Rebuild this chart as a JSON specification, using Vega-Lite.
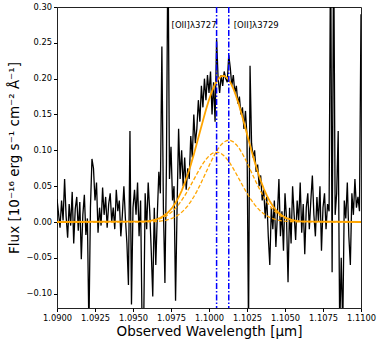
{
  "$schema": "https://vega.github.io/schema/vega-lite/v6.json",
  "width": 304,
  "height": 301,
  "autosize": {"type": "none"},
  "padding": {"left": 57, "top": 7, "right": 19, "bottom": 37},
  "background": "white",
  "config": {
    "font": "DejaVu Sans",
    "view": {"stroke": "#222", "strokeWidth": 1},
    "axis": {"grid": false, "domain": false, "tickColor": "#000", "tickSize": 3.5, "labelColor": "#000", "labelFontSize": 8.3, "labelFont": "DejaVu Sans", "titleFont": "DejaVu Sans", "titleFontWeight": "normal", "titleColor": "#000", "titleFontSize": 13.5, "labelOverlap": false}
  },
  "datasets": {
    "spec": [
      {"wl":1.0900,"flux":0.032},{"wl":1.0901,"flux":0.012},{"wl":1.0902,"flux":-0.008},{"wl":1.0903,"flux":0.030},{"wl":1.0904,"flux":0.002},
      {"wl":1.0905,"flux":0.060},{"wl":1.0906,"flux":0.008},{"wl":1.0907,"flux":-0.022},{"wl":1.0908,"flux":0.025},{"wl":1.0909,"flux":-0.005},
      {"wl":1.0910,"flux":0.042},{"wl":1.0911,"flux":-0.030},{"wl":1.0912,"flux":0.018},{"wl":1.0913,"flux":0.035},{"wl":1.0914,"flux":-0.012},
      {"wl":1.0915,"flux":0.028},{"wl":1.0916,"flux":-0.052},{"wl":1.0917,"flux":0.010},{"wl":1.0918,"flux":0.038},{"wl":1.0919,"flux":-0.018},
      {"wl":1.0920,"flux":0.005},{"wl":1.0921,"flux":-0.150},{"wl":1.0922,"flux":0.020},{"wl":1.0923,"flux":0.088},{"wl":1.0924,"flux":0.075},
      {"wl":1.0925,"flux":0.030},{"wl":1.0926,"flux":0.055},{"wl":1.0927,"flux":-0.015},{"wl":1.0928,"flux":0.020},{"wl":1.0929,"flux":-0.005},
      {"wl":1.0930,"flux":0.048},{"wl":1.0931,"flux":0.010},{"wl":1.0932,"flux":0.035},{"wl":1.0933,"flux":-0.008},{"wl":1.0934,"flux":0.025},
      {"wl":1.0935,"flux":0.040},{"wl":1.0936,"flux":0.000},{"wl":1.0937,"flux":0.020},{"wl":1.0938,"flux":-0.010},{"wl":1.0939,"flux":0.045},
      {"wl":1.0940,"flux":0.015},{"wl":1.0941,"flux":0.030},{"wl":1.0942,"flux":-0.020},{"wl":1.0943,"flux":0.010},{"wl":1.0944,"flux":0.050},
      {"wl":1.0945,"flux":0.005},{"wl":1.0946,"flux":-0.030},{"wl":1.0947,"flux":-0.088},{"wl":1.0948,"flux":0.127},{"wl":1.0949,"flux":-0.115},
      {"wl":1.0950,"flux":0.020},{"wl":1.0951,"flux":0.045},{"wl":1.0952,"flux":0.010},{"wl":1.0953,"flux":0.055},{"wl":1.0954,"flux":-0.020},
      {"wl":1.0955,"flux":0.030},{"wl":1.0956,"flux":-0.150},{"wl":1.0957,"flux":-0.150},{"wl":1.0958,"flux":0.040},{"wl":1.0959,"flux":-0.010},
      {"wl":1.0960,"flux":0.055},{"wl":1.0961,"flux":0.015},{"wl":1.0962,"flux":-0.040},{"wl":1.0963,"flux":-0.104},{"wl":1.0964,"flux":0.020},
      {"wl":1.0965,"flux":-0.060},{"wl":1.0966,"flux":0.010},{"wl":1.0967,"flux":0.070},{"wl":1.0968,"flux":0.040},{"wl":1.0969,"flux":0.245},
      {"wl":1.0970,"flux":0.020},{"wl":1.0971,"flux":-0.085},{"wl":1.0972,"flux":0.080},{"wl":1.0973,"flux":0.400},{"wl":1.0974,"flux":0.060},
      {"wl":1.0975,"flux":0.105},{"wl":1.0976,"flux":0.030},{"wl":1.0977,"flux":0.050},{"wl":1.0978,"flux":-0.110},{"wl":1.0979,"flux":0.020},
      {"wl":1.0980,"flux":0.130},{"wl":1.0981,"flux":0.060},{"wl":1.0982,"flux":0.100},{"wl":1.0983,"flux":0.050},{"wl":1.0984,"flux":0.090},
      {"wl":1.0985,"flux":0.045},{"wl":1.0986,"flux":0.075},{"wl":1.0987,"flux":0.060},{"wl":1.0988,"flux":0.120},{"wl":1.0989,"flux":0.090},
      {"wl":1.0990,"flux":0.150},{"wl":1.0991,"flux":0.110},{"wl":1.0992,"flux":0.130},{"wl":1.0993,"flux":0.170},{"wl":1.0994,"flux":0.140},
      {"wl":1.0995,"flux":0.190},{"wl":1.0996,"flux":0.160},{"wl":1.0997,"flux":0.200},{"wl":1.0998,"flux":0.170},{"wl":1.0999,"flux":0.205},
      {"wl":1.1000,"flux":0.180},{"wl":1.1001,"flux":0.210},{"wl":1.1002,"flux":0.150},{"wl":1.1003,"flux":0.195},{"wl":1.1004,"flux":0.140},
      {"wl":1.1005,"flux":0.255},{"wl":1.1006,"flux":0.200},{"wl":1.1007,"flux":0.180},{"wl":1.1008,"flux":0.205},{"wl":1.1009,"flux":0.190},
      {"wl":1.1010,"flux":0.210},{"wl":1.1011,"flux":0.200},{"wl":1.1012,"flux":0.195},{"wl":1.1013,"flux":0.233},{"wl":1.1014,"flux":0.215},
      {"wl":1.1015,"flux":0.190},{"wl":1.1016,"flux":0.205},{"wl":1.1017,"flux":0.180},{"wl":1.1018,"flux":0.190},{"wl":1.1019,"flux":0.165},
      {"wl":1.1020,"flux":0.175},{"wl":1.1021,"flux":0.150},{"wl":1.1022,"flux":0.160},{"wl":1.1023,"flux":0.130},{"wl":1.1024,"flux":0.155},
      {"wl":1.1025,"flux":0.120},{"wl":1.1026,"flux":-0.150},{"wl":1.1027,"flux":0.218},{"wl":1.1028,"flux":0.110},{"wl":1.1029,"flux":0.090},
      {"wl":1.1030,"flux":0.100},{"wl":1.1031,"flux":0.070},{"wl":1.1032,"flux":0.080},{"wl":1.1033,"flux":0.050},{"wl":1.1034,"flux":0.065},
      {"wl":1.1035,"flux":0.030},{"wl":1.1036,"flux":0.045},{"wl":1.1037,"flux":0.005},{"wl":1.1038,"flux":0.035},{"wl":1.1039,"flux":-0.020},
      {"wl":1.1040,"flux":-0.060},{"wl":1.1041,"flux":0.020},{"wl":1.1042,"flux":-0.010},{"wl":1.1043,"flux":0.030},{"wl":1.1044,"flux":-0.035},
      {"wl":1.1045,"flux":0.010},{"wl":1.1046,"flux":0.060},{"wl":1.1047,"flux":-0.020},{"wl":1.1048,"flux":0.015},{"wl":1.1049,"flux":-0.040},
      {"wl":1.1050,"flux":0.040},{"wl":1.1051,"flux":0.005},{"wl":1.1052,"flux":-0.084},{"wl":1.1053,"flux":0.020},{"wl":1.1054,"flux":-0.030},
      {"wl":1.1055,"flux":0.050},{"wl":1.1056,"flux":0.010},{"wl":1.1057,"flux":-0.025},{"wl":1.1058,"flux":0.030},{"wl":1.1059,"flux":0.000},
      {"wl":1.1060,"flux":0.055},{"wl":1.1061,"flux":-0.015},{"wl":1.1062,"flux":0.025},{"wl":1.1063,"flux":-0.045},{"wl":1.1064,"flux":0.020},
      {"wl":1.1065,"flux":0.040},{"wl":1.1066,"flux":-0.010},{"wl":1.1067,"flux":0.030},{"wl":1.1068,"flux":0.065},{"wl":1.1069,"flux":0.010},
      {"wl":1.1070,"flux":-0.020},{"wl":1.1071,"flux":0.035},{"wl":1.1072,"flux":0.000},{"wl":1.1073,"flux":0.050},{"wl":1.1074,"flux":-0.040},
      {"wl":1.1075,"flux":0.020},{"wl":1.1076,"flux":0.040},{"wl":1.1077,"flux":-0.010},{"wl":1.1078,"flux":0.025},{"wl":1.1079,"flux":0.015},
      {"wl":1.1080,"flux":0.400},{"wl":1.1081,"flux":-0.070},{"wl":1.1082,"flux":0.400},{"wl":1.1083,"flux":0.010},{"wl":1.1084,"flux":0.040},
      {"wl":1.1085,"flux":0.127},{"wl":1.1086,"flux":-0.150},{"wl":1.1087,"flux":-0.050},{"wl":1.1088,"flux":-0.150},{"wl":1.1089,"flux":0.030},
      {"wl":1.1090,"flux":0.005},{"wl":1.1091,"flux":0.055},{"wl":1.1092,"flux":-0.020},{"wl":1.1093,"flux":-0.060},{"wl":1.1094,"flux":0.040},
      {"wl":1.1095,"flux":0.010},{"wl":1.1096,"flux":0.060},{"wl":1.1097,"flux":0.020},{"wl":1.1098,"flux":0.035},{"wl":1.1099,"flux":0.015},
      {"wl":1.1100,"flux":0.290}
    ],
    "fit": [
      {"wl":1.0900,"g1":0,"g2":0,"total":0},
      {"wl":1.0958,"g1":0.0007,"g2":0.0001,"total":0.0008},
      {"wl":1.0960,"g1":0.00108,"g2":0.00022,"total":0.0013},
      {"wl":1.0962,"g1":0.0016,"g2":0.00035,"total":0.00195},
      {"wl":1.0964,"g1":0.00233,"g2":0.00055,"total":0.00288},
      {"wl":1.0966,"g1":0.00332,"g2":0.00084,"total":0.00416},
      {"wl":1.0968,"g1":0.00465,"g2":0.00127,"total":0.00592},
      {"wl":1.0970,"g1":0.00641,"g2":0.00187,"total":0.00828},
      {"wl":1.0972,"g1":0.00867,"g2":0.00272,"total":0.01139},
      {"wl":1.0974,"g1":0.01151,"g2":0.00388,"total":0.01539},
      {"wl":1.0976,"g1":0.01504,"g2":0.00544,"total":0.02048},
      {"wl":1.0978,"g1":0.0193,"g2":0.00749,"total":0.02679},
      {"wl":1.0980,"g1":0.02432,"g2":0.01013,"total":0.03445},
      {"wl":1.0982,"g1":0.03009,"g2":0.01346,"total":0.04355},
      {"wl":1.0984,"g1":0.03659,"g2":0.01759,"total":0.05418},
      {"wl":1.0986,"g1":0.04371,"g2":0.02256,"total":0.06627},
      {"wl":1.0988,"g1":0.05129,"g2":0.02843,"total":0.07972},
      {"wl":1.0990,"g1":0.05913,"g2":0.03518,"total":0.09431},
      {"wl":1.0992,"g1":0.06697,"g2":0.04278,"total":0.10975},
      {"wl":1.0994,"g1":0.07451,"g2":0.05111,"total":0.12562},
      {"wl":1.0996,"g1":0.08144,"g2":0.05998,"total":0.14142},
      {"wl":1.0998,"g1":0.08744,"g2":0.06914,"total":0.15658},
      {"wl":1.1000,"g1":0.09224,"g2":0.07831,"total":0.17055},
      {"wl":1.1002,"g1":0.09557,"g2":0.08712,"total":0.18269},
      {"wl":1.1004,"g1":0.09729,"g2":0.09522,"total":0.19251},
      {"wl":1.1006,"g1":0.09729,"g2":0.10224,"total":0.19953},
      {"wl":1.1008,"g1":0.09557,"g2":0.10784,"total":0.20341},
      {"wl":1.1010,"g1":0.09224,"g2":0.11174,"total":0.20398},
      {"wl":1.1012,"g1":0.08744,"g2":0.11375,"total":0.20119},
      {"wl":1.1014,"g1":0.08144,"g2":0.11375,"total":0.19519},
      {"wl":1.1016,"g1":0.07451,"g2":0.11174,"total":0.18625},
      {"wl":1.1018,"g1":0.06697,"g2":0.10784,"total":0.17481},
      {"wl":1.1020,"g1":0.05913,"g2":0.10224,"total":0.16137},
      {"wl":1.1022,"g1":0.05129,"g2":0.09522,"total":0.14651},
      {"wl":1.1024,"g1":0.04371,"g2":0.08712,"total":0.13083},
      {"wl":1.1026,"g1":0.03659,"g2":0.07831,"total":0.1149},
      {"wl":1.1028,"g1":0.03009,"g2":0.06914,"total":0.09923},
      {"wl":1.1030,"g1":0.02432,"g2":0.05998,"total":0.0843},
      {"wl":1.1032,"g1":0.0193,"g2":0.05111,"total":0.07041},
      {"wl":1.1034,"g1":0.01504,"g2":0.04278,"total":0.05782},
      {"wl":1.1036,"g1":0.01151,"g2":0.03518,"total":0.04669},
      {"wl":1.1038,"g1":0.00867,"g2":0.02843,"total":0.0371},
      {"wl":1.1040,"g1":0.00641,"g2":0.02256,"total":0.02897},
      {"wl":1.1042,"g1":0.00465,"g2":0.01759,"total":0.02224},
      {"wl":1.1044,"g1":0.00332,"g2":0.01346,"total":0.01678},
      {"wl":1.1046,"g1":0.00233,"g2":0.01013,"total":0.01246},
      {"wl":1.1048,"g1":0.0016,"g2":0.00749,"total":0.00909},
      {"wl":1.1050,"g1":0.00108,"g2":0.00544,"total":0.00652},
      {"wl":1.1052,"g1":0.00072,"g2":0.00388,"total":0.0046},
      {"wl":1.1054,"g1":0.00047,"g2":0.00272,"total":0.00319},
      {"wl":1.1056,"g1":0.0003,"g2":0.00187,"total":0.00217},
      {"wl":1.1058,"g1":0.00019,"g2":0.00127,"total":0.00146},
      {"wl":1.1060,"g1":0.00012,"g2":0.00084,"total":0.00096},
      {"wl":1.1100,"g1":0,"g2":0,"total":0}
    ],
    "lines": [
      {"wl":1.1005,"label":"[OII]λ3727","flux":0.275},
      {"wl":1.1013,"label":"[OII]λ3729","flux":0.275}
    ]
  },
  "encoding": {
    "x": {"field": "wl", "type": "quantitative", "scale": {"domain": [1.09, 1.11], "nice": false, "zero": false},
      "axis": {"title": "Observed Wavelength [μm]", "values": [1.09, 1.0925, 1.095, 1.0975, 1.1, 1.1025, 1.105, 1.1075, 1.11], "format": ".4f", "labelPadding": 2, "titlePadding": 3, "labelFlush": false, "labelOverlap": false, "labelBound": false}}
  },
  "layer": [
    {
      "data": {"name": "spec"},
      "mark": {"type": "line", "color": "#000", "strokeWidth": 1.3, "clip": true},
      "encoding": {
        "y": {"field": "flux", "type": "quantitative", "scale": {"domain": [-0.12, 0.30], "nice": false, "zero": false},
          "axis": {"title": "Flux [10⁻¹⁶ erg s⁻¹ cm⁻² Å⁻¹]", "values": [-0.1, -0.05, 0, 0.05, 0.1, 0.15, 0.2, 0.25, 0.3], "format": ".2f", "labelPadding": 2, "titlePadding": 5, "labelFlush": false, "labelOverlap": false}}
      }
    },
    {
      "data": {"name": "fit"},
      "mark": {"type": "line", "color": "#FFA500", "strokeWidth": 1.3, "strokeDash": [4, 2], "clip": true},
      "encoding": {"y": {"field": "g1", "type": "quantitative",
          "axis": {"title": "Flux [10⁻¹⁶ erg s⁻¹ cm⁻² Å⁻¹]", "values": [-0.1, -0.05, 0, 0.05, 0.1, 0.15, 0.2, 0.25, 0.3], "format": ".2f", "labelPadding": 2, "titlePadding": 5, "labelFlush": false, "labelOverlap": false}}}
    },
    {
      "data": {"name": "fit"},
      "mark": {"type": "line", "color": "#FFA500", "strokeWidth": 1.3, "strokeDash": [4, 2], "clip": true},
      "encoding": {"y": {"field": "g2", "type": "quantitative",
          "axis": {"title": "Flux [10⁻¹⁶ erg s⁻¹ cm⁻² Å⁻¹]", "values": [-0.1, -0.05, 0, 0.05, 0.1, 0.15, 0.2, 0.25, 0.3], "format": ".2f", "labelPadding": 2, "titlePadding": 5, "labelFlush": false, "labelOverlap": false}}}
    },
    {
      "data": {"name": "fit"},
      "mark": {"type": "line", "color": "#FFA500", "strokeWidth": 1.8, "clip": true},
      "encoding": {"y": {"field": "total", "type": "quantitative",
          "axis": {"title": "Flux [10⁻¹⁶ erg s⁻¹ cm⁻² Å⁻¹]", "values": [-0.1, -0.05, 0, 0.05, 0.1, 0.15, 0.2, 0.25, 0.3], "format": ".2f", "labelPadding": 2, "titlePadding": 5, "labelFlush": false, "labelOverlap": false}}}
    },
    {
      "data": {"name": "lines"},
      "mark": {"type": "rule", "color": "#0000FF", "strokeWidth": 1.5, "strokeDash": [6, 2, 1.5, 2]},
      "encoding": {}
    },
    {
      "data": {"name": "lines"},
      "mark": {"type": "text", "fontSize": 8.5, "font": "DejaVu Sans", "color": "#000", "baseline": "middle", "align": "left", "dx": 5},
      "transform": [{"filter": "datum.label == '[OII]λ3729'"}],
      "encoding": {"y": {"field": "flux", "type": "quantitative",
          "axis": {"title": "Flux [10⁻¹⁶ erg s⁻¹ cm⁻² Å⁻¹]", "values": [-0.1, -0.05, 0, 0.05, 0.1, 0.15, 0.2, 0.25, 0.3], "format": ".2f", "labelPadding": 2, "titlePadding": 5, "labelFlush": false, "labelOverlap": false}}, "text": {"field": "label"}}
    },
    {
      "data": {"name": "lines"},
      "mark": {"type": "text", "fontSize": 8.5, "font": "DejaVu Sans", "color": "#000", "baseline": "middle", "align": "right", "dx": 0},
      "transform": [{"filter": "datum.label == '[OII]λ3727'"}],
      "encoding": {"y": {"field": "flux", "type": "quantitative",
          "axis": {"title": "Flux [10⁻¹⁶ erg s⁻¹ cm⁻² Å⁻¹]", "values": [-0.1, -0.05, 0, 0.05, 0.1, 0.15, 0.2, 0.25, 0.3], "format": ".2f", "labelPadding": 2, "titlePadding": 5, "labelFlush": false, "labelOverlap": false}}, "text": {"field": "label"}}
    }
  ]
}
